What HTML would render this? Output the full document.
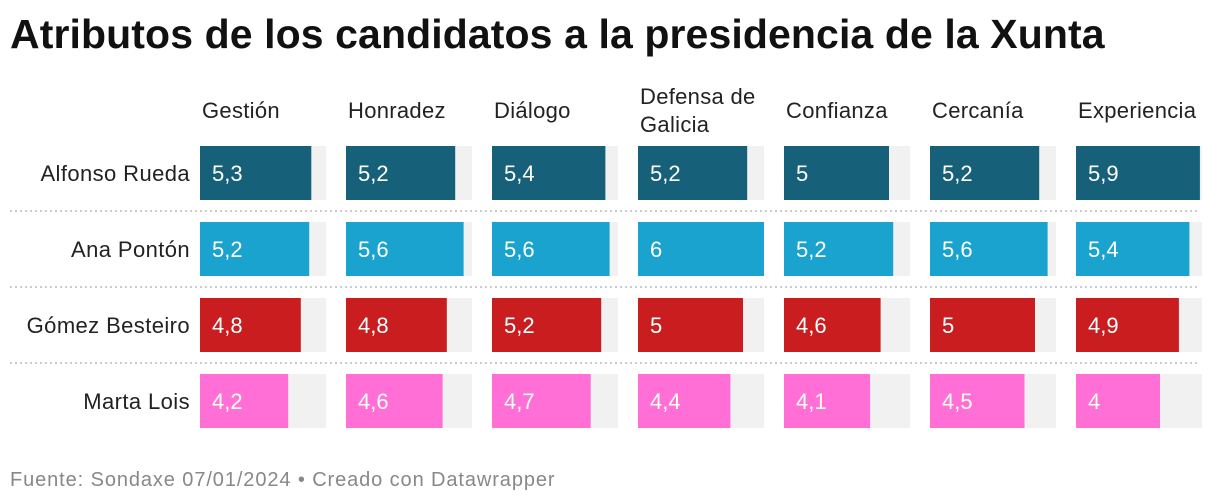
<!DOCTYPE html>
<html><head><meta charset="utf-8"><style>
body{margin:0;background:#fff;width:1220px;height:504px;overflow:hidden;font-family:"Liberation Sans",sans-serif}
#title{position:absolute;left:10px;top:11px;font-size:41px;font-weight:bold;color:#111;letter-spacing:0.1px}
#foot{position:absolute;left:10px;top:469px;font-size:20px;color:#888;letter-spacing:0.9px}
</style></head><body>
<div id="title">Atributos de los candidatos a la presidencia de la Xunta</div>
<svg id="chart" width="1220" height="504" style="position:absolute;left:0;top:0"></svg>
<div id="foot">Fuente: Sondaxe 07/01/2024 • Creado con Datawrapper</div>
<script>
const attributes=[["Gestión"],["Honradez"],["Diálogo"],["Defensa de","Galicia"],["Confianza"],["Cercanía"],["Experiencia"]];
const candidates=["Alfonso Rueda","Ana Pontón","Gómez Besteiro","Marta Lois"];
const rueda=[5.3,5.2,5.4,5.2,5,5.2,5.9];
const ponton=[5.2,5.6,5.6,6,5.2,5.6,5.4];
const besteiro=[4.8,4.8,5.2,5,4.6,5,4.9];
const lois=[4.2,4.6,4.7,4.4,4.1,4.5,4];
const maxValue=6;
const series=[rueda,ponton,besteiro,lois];
const colors=["#17607a","#1aa3cf","#c91d1f","#ff6fd6"];
const svg=document.getElementById('chart');const NS="http://www.w3.org/2000/svg";
const colX=i=>200+i*146, colW=126, rowY=j=>146+j*76, rowH=54;
const x=v=>v/maxValue*colW;
function mk(t,a,p){const e=document.createElementNS(NS,t);for(const k in a)e.setAttribute(k,a[k]);(p||svg).appendChild(e);return e;}
attributes.forEach((lines,i)=>{
  const t=mk('text',{x:colX(i)+2,y:lines.length>1?104:118,'font-size':22,'letter-spacing':0.3,fill:'#222'});
  
  
  lines.forEach((l,k)=>{const s=mk('tspan',{x:colX(i)+2,dy:k?28:0},t);s.textContent=l;});
});
candidates.forEach((c,j)=>{
  const lab=mk('text',{x:190,y:rowY(j)+rowH/2+8,'text-anchor':'end','font-size':22,'letter-spacing':0.4,fill:'#222'});
  
  
  lab.textContent=c;
  if(j>0){const ln=mk('line',{x1:10,x2:1200,y1:rowY(j)-11,y2:rowY(j)-11,stroke:'#ccc','stroke-width':2,'stroke-dasharray':'2,3'});
    
    }
  series[j].forEach((v,i)=>{
    const bg=mk('rect',{x:colX(i),y:rowY(j),width:colW,height:rowH,fill:'#f1f1f1'});
    
    
    const b=mk('rect',{x:colX(i),y:rowY(j),width:x(v),height:rowH,fill:colors[j]});
    
    
    const tv=mk('text',{x:colX(i)+12,y:rowY(j)+rowH/2+8,'font-size':22,fill:'#fff'});
    
    
    tv.textContent=String(v).replace('.',',');
  });
});
</script>
</body></html>
